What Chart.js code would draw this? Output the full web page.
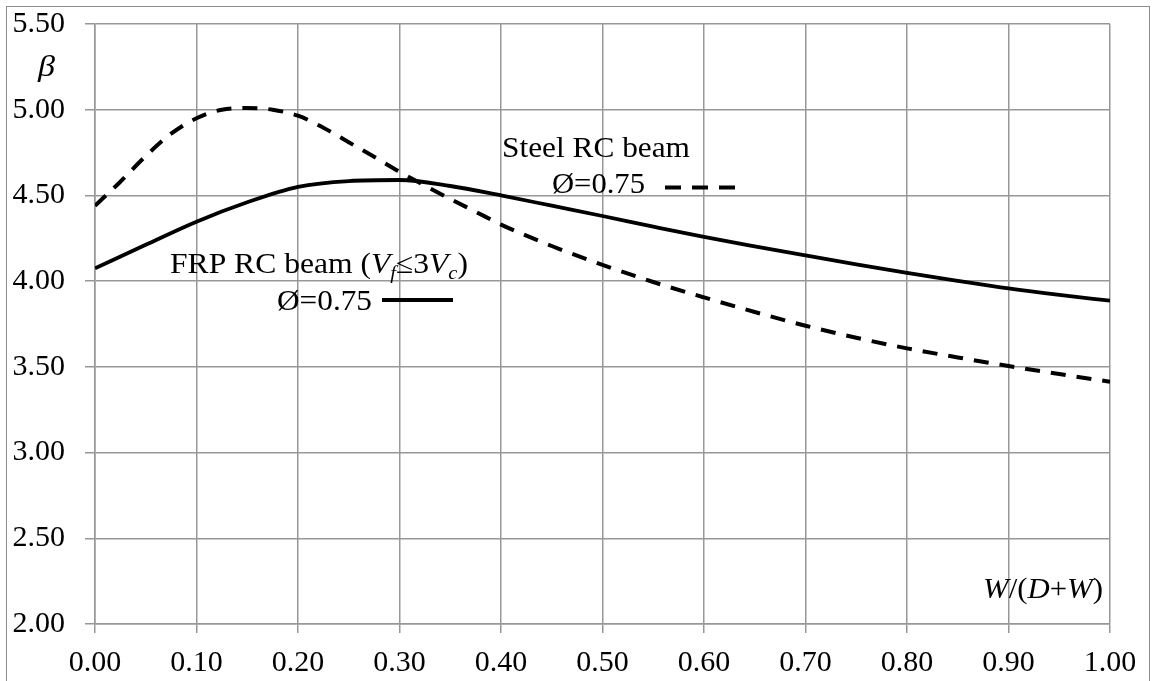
<!DOCTYPE html>
<html>
<head>
<meta charset="utf-8">
<script src="https://cdn.jsdelivr.net/npm/chart.js@4"></script>
<style>
  html, body { margin: 0; padding: 0; background: #fff; overflow: hidden; }
  #wrap { position: absolute; left: 0; top: 0; width: 1154px; height: 681px; }
</style>
</head>
<body>
<div id="wrap"><canvas id="chart"></canvas></div>
<script>
// Steel RC beam, Ø=0.75 (dashed)
const steelX = [0, 0.025, 0.05, 0.075, 0.1, 0.125, 0.15, 0.175, 0.2, 0.225, 0.25, 0.275, 0.3, 0.325, 0.35, 0.375, 0.4,
                0.45, 0.5, 0.55, 0.6, 0.65, 0.7, 0.75, 0.8, 0.85, 0.9, 0.95, 1.0];
const steelBeta = [4.44, 4.58, 4.73, 4.86, 4.95, 5.00, 5.01, 5.00, 4.965, 4.895, 4.81, 4.725, 4.638, 4.557, 4.479, 4.405, 4.33,
                   4.205, 4.095, 3.995, 3.905, 3.82, 3.74, 3.67, 3.608, 3.555, 3.505, 3.458, 3.413];

// FRP RC beam (Vf<=3Vc), Ø=0.75 (solid)
const frpX = [0, 0.05, 0.1, 0.15, 0.2, 0.25, 0.3, 0.35, 0.4, 0.45, 0.5, 0.55, 0.6, 0.65, 0.7, 0.75, 0.8, 0.85, 0.9, 0.95, 1.0];
const frpBeta = [4.075, 4.212, 4.347, 4.46, 4.55, 4.584, 4.59, 4.555, 4.50, 4.44, 4.38, 4.318, 4.258, 4.203, 4.15, 4.098, 4.048, 4.002, 3.958, 3.92, 3.886];

// axis ranges / ticks
const xMin = 0, xMax = 1, xStep = 0.1;
const yMin = 2, yMax = 5.5, yStep = 0.5;

const serif = "'Liberation Serif', 'Times New Roman', serif";
const gridColor = '#979797';

function toPoints(xs, ys) {
    return xs.map((x, i) => ({ x: x, y: ys[i] }));
}

// draw a run of text pieces (normal / italic / subscript) squeezed to a target width
function drawRuns(ctx, runs, left, baseline, targetW, size) {
    let total = 0;
    const parts = runs.map(r => {
        const s = r.sub ? size * 0.65 : size;
        const font = (r.italic ? 'italic ' : '') + s + 'px ' + serif;
        ctx.font = font;
        const w = ctx.measureText(r.t).width;
        total += w;
        return { t: r.t, font: font, w: w, dy: r.sub ? size * 0.22 : 0 };
    });
    const sx = targetW / total;
    ctx.save();
    ctx.translate(left, baseline);
    ctx.scale(sx, 1);
    ctx.fillStyle = '#000';
    ctx.textBaseline = 'alphabetic';
    ctx.textAlign = 'left';
    let x = 0;
    parts.forEach(p => {
        ctx.font = p.font;
        ctx.fillText(p.t, x, p.dy);
        x += p.w;
    });
    ctx.restore();
}

const annotations = {
    id: 'annotations',
    afterDraw(chart) {
        const ctx = chart.ctx;

        // outer frame
        ctx.save();
        ctx.strokeStyle = '#8c8c8c';
        ctx.lineWidth = 1;
        ctx.strokeRect(6.5, 6.5, 1143, 720);
        ctx.restore();

        // axis titles
        drawRuns(ctx, [{ t: 'β', italic: true }], 38, 76, 17, 29);
        drawRuns(ctx, [
            { t: 'W', italic: true }, { t: '/(' }, { t: 'D', italic: true },
            { t: '+' }, { t: 'W', italic: true }, { t: ')' }
        ], 983, 598, 120, 29);

        // steel label + legend sample
        drawRuns(ctx, [{ t: 'Steel RC beam' }], 502, 157, 188, 29);
        drawRuns(ctx, [{ t: 'Ø=0.75' }], 552, 193, 93, 29);
        ctx.save();
        ctx.strokeStyle = '#000';
        ctx.lineWidth = 4;
        ctx.setLineDash([16, 11]);
        ctx.beginPath();
        ctx.moveTo(665, 187.5);
        ctx.lineTo(737, 187.5);
        ctx.stroke();
        ctx.restore();

        // FRP label + legend sample
        drawRuns(ctx, [
            { t: 'FRP RC beam (' }, { t: 'V', italic: true }, { t: 'f', italic: true, sub: true },
            { t: '≤3' }, { t: 'V', italic: true }, { t: 'c', italic: true, sub: true }, { t: ')' }
        ], 170, 273, 298, 29);
        drawRuns(ctx, [{ t: 'Ø=0.75' }], 277, 310, 95, 29);
        ctx.save();
        ctx.strokeStyle = '#000';
        ctx.lineWidth = 4;
        ctx.beginPath();
        ctx.moveTo(382, 300);
        ctx.lineTo(453, 300);
        ctx.stroke();
        ctx.restore();
    }
};

const config = {
    type: 'scatter',
    data: {
        datasets: [
            {
                label: 'Steel RC beam Ø=0.75',
                data: toPoints(steelX, steelBeta),
                showLine: true,
                borderColor: '#000',
                borderWidth: 4,
                borderDash: [15, 11],
                pointRadius: 0,
                cubicInterpolationMode: 'monotone'
            },
            {
                label: 'FRP RC beam Ø=0.75',
                data: toPoints(frpX, frpBeta),
                showLine: true,
                borderColor: '#000',
                borderWidth: 3.8,
                pointRadius: 0,
                cubicInterpolationMode: 'monotone'
            }
        ]
    },
    options: {
        responsive: true,
        maintainAspectRatio: false,
        animation: false,
        layout: { padding: { left: 0, right: 44, top: 24, bottom: 0 } },
        plugins: {
            legend: { display: false },
            tooltip: { enabled: false }
        },
        scales: {
            x: {
                type: 'linear',
                min: xMin,
                max: xMax,
                afterFit: scale => { scale.height = 57; },
                grid: { color: gridColor, lineWidth: 1.5, tickLength: 9, drawTicks: true },
                border: { color: gridColor, width: 1.5 },
                ticks: {
                    stepSize: xStep,
                    padding: 12,
                    maxRotation: 0,
                    autoSkip: false,
                    color: '#000',
                    font: { family: serif, size: 30 },
                    callback: v => Number(v).toFixed(2)
                }
            },
            y: {
                type: 'linear',
                min: yMin,
                max: yMax,
                afterFit: scale => {
                    scale.width = 95;
                    scale.paddingTop = 0;
                    scale.paddingBottom = 0;
                },
                grid: { color: gridColor, lineWidth: 1.5, tickLength: 10, drawTicks: true },
                border: { color: gridColor, width: 1.5 },
                ticks: {
                    stepSize: yStep,
                    padding: 20,
                    color: '#000',
                    font: { family: serif, size: 30 },
                    callback: v => Number(v).toFixed(2)
                }
            }
        }
    },
    plugins: [annotations]
};

const ctx = document.getElementById('chart').getContext('2d');
const myChart = new Chart(ctx, config);
</script>
</body>
</html>
